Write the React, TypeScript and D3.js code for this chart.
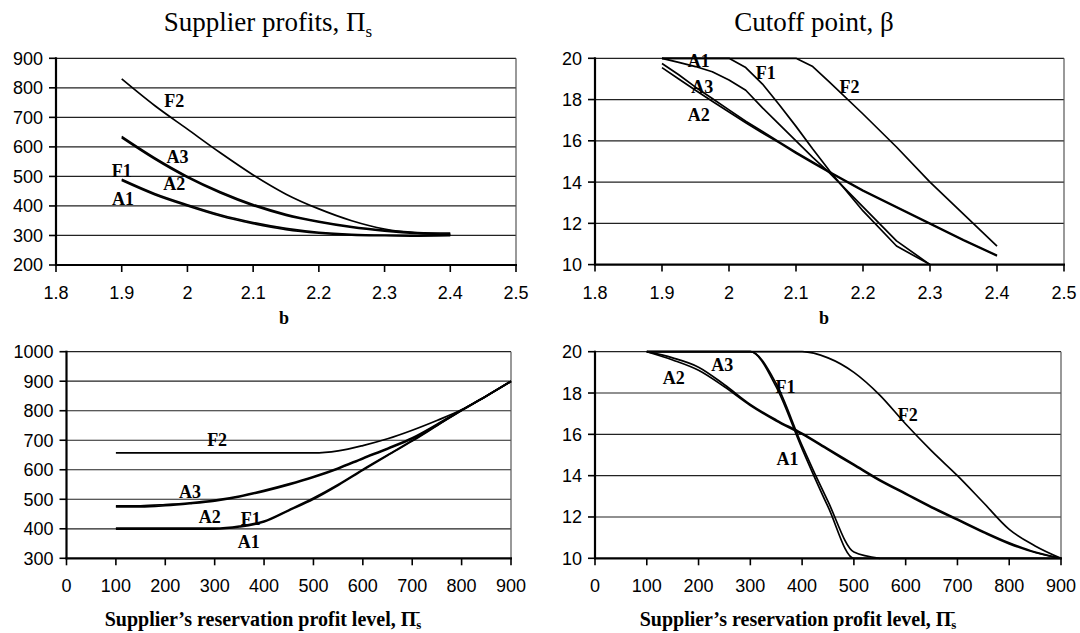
import React from 'react';
import * as d3 from 'd3';

// ---- top left: supplier profits vs b
const bProfit = [1.9, 1.95, 2.0, 2.05, 2.1, 2.15, 2.2, 2.25, 2.3, 2.35, 2.4];
const profitF2 = [830, 740, 660, 580, 505, 440, 390, 350, 322, 308, 303];
const profitA3 = [635, 563, 500, 448, 405, 372, 348, 330, 318, 310, 308];
const profitA2 = [631, 559, 496, 444, 401, 368, 345, 327, 315, 307, 304];
const profitF1 = [490, 442, 404, 370, 344, 324, 311, 304, 301, 300, 301];
const profitA1 = [486, 438, 400, 366, 340, 320, 308, 301, 299, 298, 299];

// ---- top right: cutoff point vs b
const bCutoff = [1.9, 1.925, 1.95, 1.975, 2.0, 2.025, 2.05, 2.075, 2.1, 2.125, 2.15, 2.2, 2.25, 2.3, 2.35, 2.4];
const cutA1 = [20, 19.8, 19.6, 19.35, 18.95, 18.45, 17.6, 16.8, 16.0, 15.2, 14.45, 12.8, 11.15, 10, null, null];
const cutF1 = [20, 20, 20, 20, 20, 19.55, 18.75, 17.75, 16.7, 15.6, 14.55, 12.6, 10.9, 10, null, null];
const cutA3 = [19.75, 19.2, 18.6, 18.05, 17.5, 16.95, 16.45, 15.95, 15.45, 14.97, 14.5, 13.6, 12.8, 12.0, 11.2, 10.45];
const cutA2 = [19.55, 19.0, 18.45, 17.92, 17.4, 16.88, 16.38, 15.9, 15.4, 14.93, 14.46, 13.57, 12.77, 11.97, 11.17, 10.42];
const cutF2 = [20, 20, 20, 20, 20, 20, 20, 20, 20, 19.6, 18.85, 17.3, 15.7, 14.0, 12.45, 10.9];

// ---- bottom left: supplier profits vs reservation profit
const reservation = [100, 150, 200, 250, 300, 350, 400, 450, 500, 550, 600, 650, 700, 750, 800, 850, 900];
const resProfitF2 = [657, 657, 657, 657, 657, 657, 657, 657, 657, 664, 682, 705, 734, 767, 803, 850, 900];
const resProfitA3 = [478, 478, 482, 488, 497, 511, 530, 552, 577, 606, 640, 673, 708, 754, 803, 850, 900];
const resProfitA2 = [474, 474, 478, 485, 494, 508, 527, 549, 574, 603, 637, 670, 705, 752, 801, 849, 899];
const resProfitF1 = [402, 402, 402, 402, 402, 409, 426, 464, 504, 550, 601, 650, 699, 750, 802, 850, 900];
const resProfitA1 = [399, 399, 399, 399, 399, 406, 423, 461, 500, 547, 598, 648, 697, 749, 801, 849, 899];

// ---- bottom right: cutoff point vs reservation profit
const resCutA3 = [20, 19.7, 19.25, 18.4, 17.45, 16.7, 16.05, 15.3, 14.55, 13.8, 13.15, 12.5, 11.9, 11.3, 10.75, 10.3, 10];
const resCutA2 = [20, 19.6, 19.1, 18.3, 17.4, 16.65, 16.0, 15.25, 14.5, 13.75, 13.1, 12.45, 11.85, 11.25, 10.7, 10.28, 10];
const resCutF1 = [20, 20, 20, 20, 20, 18.3, 15.3, 12.5, 10, 10, 10, 10, 10, 10, 10, 10, 10];
const resCutA1 = [20, 20, 20, 20, 20, 18.45, 15.45, 12.75, 10.3, 10, null, null, null, null, null, null, null];
const resCutF2 = [20, 20, 20, 20, 20, 20, 20, 19.7, 19.0, 17.9, 16.5, 15.2, 14.0, 12.7, 11.4, 10.6, 10];

// tick values
const bTicks = [1.8, 1.9, 2.0, 2.1, 2.2, 2.3, 2.4, 2.5];
const resTicks = [0, 100, 200, 300, 400, 500, 600, 700, 800, 900];
const profitTicksTop = [200, 300, 400, 500, 600, 700, 800, 900];
const profitTicksBottom = [300, 400, 500, 600, 700, 800, 900, 1000];
const cutTicks = [10, 12, 14, 16, 18, 20];

// label anchors in data units
const labelsTL = [
  { text: 'F2', x: 1.98, y: 755 },
  { text: 'A3', x: 1.985, y: 568 },
  { text: 'F1', x: 1.9, y: 521 },
  { text: 'A2', x: 1.98, y: 477 },
  { text: 'A1', x: 1.902, y: 426 },
];
const labelsTR = [
  { text: 'A1', x: 1.955, y: 19.9 },
  { text: 'F1', x: 2.055, y: 19.3 },
  { text: 'A3', x: 1.96, y: 18.6 },
  { text: 'F2', x: 2.18, y: 18.6 },
  { text: 'A2', x: 1.955, y: 17.25 },
];
const labelsBL = [
  { text: 'F2', x: 305, y: 701 },
  { text: 'A3', x: 250, y: 525 },
  { text: 'A2', x: 290, y: 440 },
  { text: 'F1', x: 373, y: 434 },
  { text: 'A1', x: 369, y: 357 },
];
const labelsBR = [
  { text: 'A3', x: 246, y: 19.37 },
  { text: 'A2', x: 152, y: 18.72 },
  { text: 'F1', x: 368, y: 18.32 },
  { text: 'F2', x: 604, y: 16.94 },
  { text: 'A1', x: 372, y: 14.84 },
];

const SERIF = '"Liberation Serif", "Times New Roman", serif';
const SANS = '"Liberation Sans", Arial, sans-serif';

type Lbl = { text: string; x: number; y: number };

function Panel(props: {
  box: [number, number, number, number];
  xDomain: [number, number];
  yDomain: [number, number];
  xTicks: number[];
  yTicks: number[];
  xs: number[];
  series: (number | null)[][];
  labels: Lbl[];
  curve: any;
}) {
  const { box, xDomain, yDomain, xTicks, yTicks, xs, series, labels, curve } = props;
  const [left, top, right, bottom] = box;
  const x = d3.scaleLinear().domain(xDomain).range([left, right]);
  const y = d3.scaleLinear().domain(yDomain).range([bottom, top]);
  const line = d3
    .line<number | null>()
    .defined((d) => d != null)
    .x((_, i) => x(xs[i]))
    .y((d) => y(d as number))
    .curve(curve);
  const fmt = (v: number) => String(+v.toFixed(1));
  return (
    <g>
      {yTicks.slice(1).map((t) => (
        <line key={'g' + t} x1={left} x2={right} y1={y(t)} y2={y(t)} stroke="#222" strokeWidth={1.2} />
      ))}
      <line x1={right} x2={right} y1={top} y2={bottom} stroke="#555" strokeWidth={1.2} />
      {series.map((s, i) => (
        <path key={i} d={line(s) || ''} fill="none" stroke="#000" strokeWidth={1.7} strokeLinejoin="round" />
      ))}
      {labels.map((l) => (
        <text key={l.text} x={x(l.x)} y={y(l.y)} dy="0.35em" textAnchor="middle" fontFamily={SERIF}
          fontWeight="bold" fontSize={18}>{l.text}</text>
      ))}
      <line x1={left} x2={left} y1={top - 1} y2={bottom + 1} stroke="#000" strokeWidth={2.2} />
      <line x1={left - 1} x2={right + 1} y1={bottom} y2={bottom} stroke="#000" strokeWidth={2.2} />
      {yTicks.map((t) => (
        <g key={'y' + t}>
          <line x1={left - 7} x2={left} y1={y(t)} y2={y(t)} stroke="#000" strokeWidth={1.6} />
          <text x={left - 13} y={y(t)} dy="0.36em" textAnchor="end" fontFamily={SANS} fontSize={18}>{t}</text>
        </g>
      ))}
      {xTicks.map((t) => (
        <g key={'x' + t}>
          <line x1={x(t)} x2={x(t)} y1={bottom} y2={bottom + 7} stroke="#000" strokeWidth={1.6} />
          <text x={x(t)} y={bottom + 34} textAnchor="middle" fontFamily={SANS} fontSize={18}>{fmt(t)}</text>
        </g>
      ))}
    </g>
  );
}

export default function App() {
  const resTitle = (cx: number) => (
    <text x={cx} y={626} textAnchor="middle" fontFamily={SERIF} fontWeight="bold" fontSize={20}>
      Supplier’s reservation profit level, Π
      <tspan fontSize={13} dy={3}>s</tspan>
      <tspan fontSize={15} dx={-6} dy={-13}>-</tspan>
    </text>
  );
  return (
    <svg width={1080} height={633} style={{ position: 'absolute', left: 0, top: 0, background: '#fff' }}>
      <rect width={1080} height={633} fill="#fff" />
      <text x={268} y={31} textAnchor="middle" fontFamily={SERIF} fontSize={27}>
        Supplier profits, Π<tspan fontSize={17} dy={6}>s</tspan>
      </text>
      <text x={814} y={31} textAnchor="middle" fontFamily={SERIF} fontSize={27}>
        Cutoff point, β
      </text>
      <Panel
        box={[56, 58.3, 516, 265]}
        xDomain={[1.8, 2.5]}
        yDomain={[200, 900]}
        xTicks={bTicks}
        yTicks={profitTicksTop}
        xs={bProfit}
        series={[profitF2, profitA3, profitA2, profitF1, profitA1]}
        labels={labelsTL}
        curve={d3.curveMonotoneX}
      />
      <Panel
        box={[595, 58.3, 1064, 264.6]}
        xDomain={[1.8, 2.5]}
        yDomain={[10, 20]}
        xTicks={bTicks}
        yTicks={cutTicks}
        xs={bCutoff}
        series={[cutF2, cutF1, cutA1, cutA3, cutA2]}
        labels={labelsTR}
        curve={d3.curveLinear}
      />
      <Panel
        box={[66.5, 351.7, 511, 558.3]}
        xDomain={[0, 900]}
        yDomain={[300, 1000]}
        xTicks={resTicks}
        yTicks={profitTicksBottom}
        xs={reservation}
        series={[resProfitF2, resProfitA3, resProfitA2, resProfitF1, resProfitA1]}
        labels={labelsBL}
        curve={d3.curveMonotoneX}
      />
      <Panel
        box={[595, 351.7, 1061, 558.3]}
        xDomain={[0, 900]}
        yDomain={[10, 20]}
        xTicks={resTicks}
        yTicks={cutTicks}
        xs={reservation}
        series={[resCutF2, resCutF1, resCutA1, resCutA3, resCutA2]}
        labels={labelsBR}
        curve={d3.curveMonotoneX}
      />
      <text x={284} y={324} textAnchor="middle" fontFamily={SERIF} fontWeight="bold" fontSize={18}>b</text>
      <text x={824} y={324} textAnchor="middle" fontFamily={SERIF} fontWeight="bold" fontSize={18}>b</text>
      {resTitle(263)}
      {resTitle(798)}
    </svg>
  );
}
